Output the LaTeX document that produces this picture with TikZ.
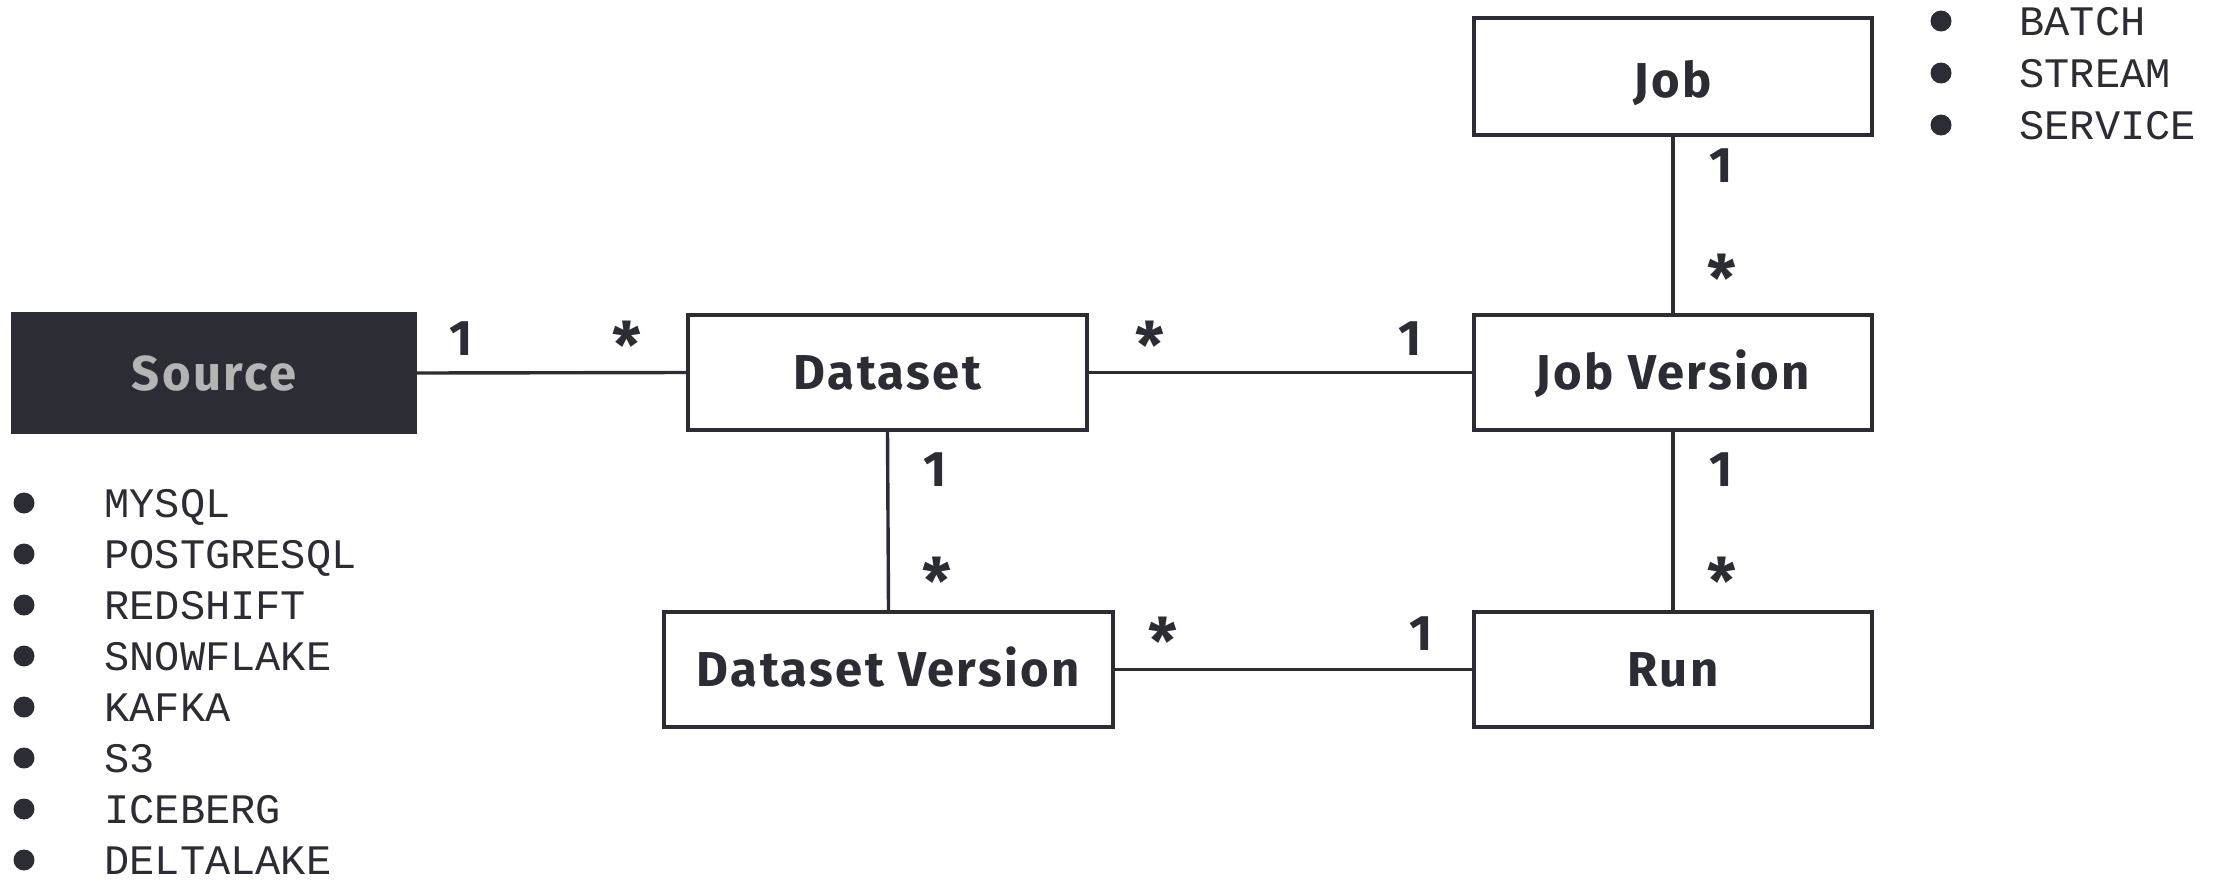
\documentclass[tikz,border=0pt]{standalone}
\usepackage{fontspec}
\setmainfont{Fira Sans}
\newfontfamily\boxfont{Fira Sans}[LetterSpace=5]
\newfontfamily\listfont{Liberation Mono}
\definecolor{ink}{HTML}{2C2C34}
\definecolor{srctext}{HTML}{B4B4B4}
\tikzset{
  ent/.style={draw=ink, line width=1.7pt, rectangle, minimum height=57.5pt, inner sep=0pt,
    text height=17pt, text depth=0pt,
    font=\boxfont\fontsize{24.5}{28}\selectfont\bfseries, text=ink},
  srcbox/.style={ent, fill=ink, text=srctext},
  conn/.style={draw=ink, line width=1.7pt},
  mult/.style={anchor=north, inner sep=0pt, font=\fontsize{25}{28}\selectfont\bfseries, text=ink},
  star/.style={mult, font=\fontsize{32}{34}\selectfont\bfseries},
  dot/.style={circle, fill=ink, inner sep=0pt, minimum size=10.5pt},
  item/.style={anchor=base west, inner sep=0pt, font=\listfont\fontsize{21}{24}\selectfont, text=ink}
}
\begin{document}
\begin{tikzpicture}[x=0.5pt, y=-0.5pt]
\useasboundingbox (0,0) rectangle (2226,879);
% boxes
\node[srcbox, minimum width=201pt, minimum height=59pt] (src) at (214,373) {Source};
\node[ent, minimum width=199.5pt] (ds) at (887.5,372.5) {Dataset};
\node[ent, minimum width=199pt] (jv) at (1673,372.5) {Job Version};
\node[ent, minimum width=199pt, minimum height=58.5pt, text height=21pt] (job) at (1673,76.5) {Job};
\node[ent, minimum width=224.5pt] (dv) at (888.5,669.5) {Dataset Version};
\node[ent, minimum width=199pt] (run) at (1673,669.5) {Run};
% connectors
\draw[conn] (src.east) -- (ds.west);
\draw[conn] (ds.east) -- (jv.west);
\draw[conn] (ds.south) -- (dv.north);
\draw[conn] (job.south) -- (jv.north);
\draw[conn] (jv.south) -- (run.north);
\draw[conn] (dv.east) -- (dv.east -| run.west);
% multiplicities
\node[mult] (m1) at (461,321) {1};
\node[star] (m2) at (627,321) {*};
\node[star] (m3) at (1150,321) {*};
\node[mult] (m4) at (1410,321) {1};
\node[mult] (m5) at (935,452) {1};
\node[star] (m6) at (937,557) {*};
\node[mult] (m7) at (1721,148) {1};
\node[star] (m8) at (1722,254) {*};
\node[mult] (m9) at (1721,452) {1};
\node[star] (m10) at (1722,557) {*};
\node[star] (m11) at (1163,617) {*};
\node[mult] (m12) at (1421,616) {1};
% source list
\foreach \t [count=\i] in {MYSQL,POSTGRESQL,REDSHIFT,SNOWFLAKE,KAFKA,S3,ICEBERG,DELTALAKE} {
  \node[dot] (sb\i) at (24,{503+51*(\i-1)}) {};
  \node[item] (st\i) at (104,{517+51*(\i-1)}) {\t};
}
% job type list
\foreach \t [count=\i] in {BATCH,STREAM,SERVICE} {
  \node[dot] (jb\i) at (1941,{21+52*(\i-1)}) {};
  \node[item] (jt\i) at (2019,{35+52*(\i-1)}) {\t};
}
\end{tikzpicture}
\end{document}
